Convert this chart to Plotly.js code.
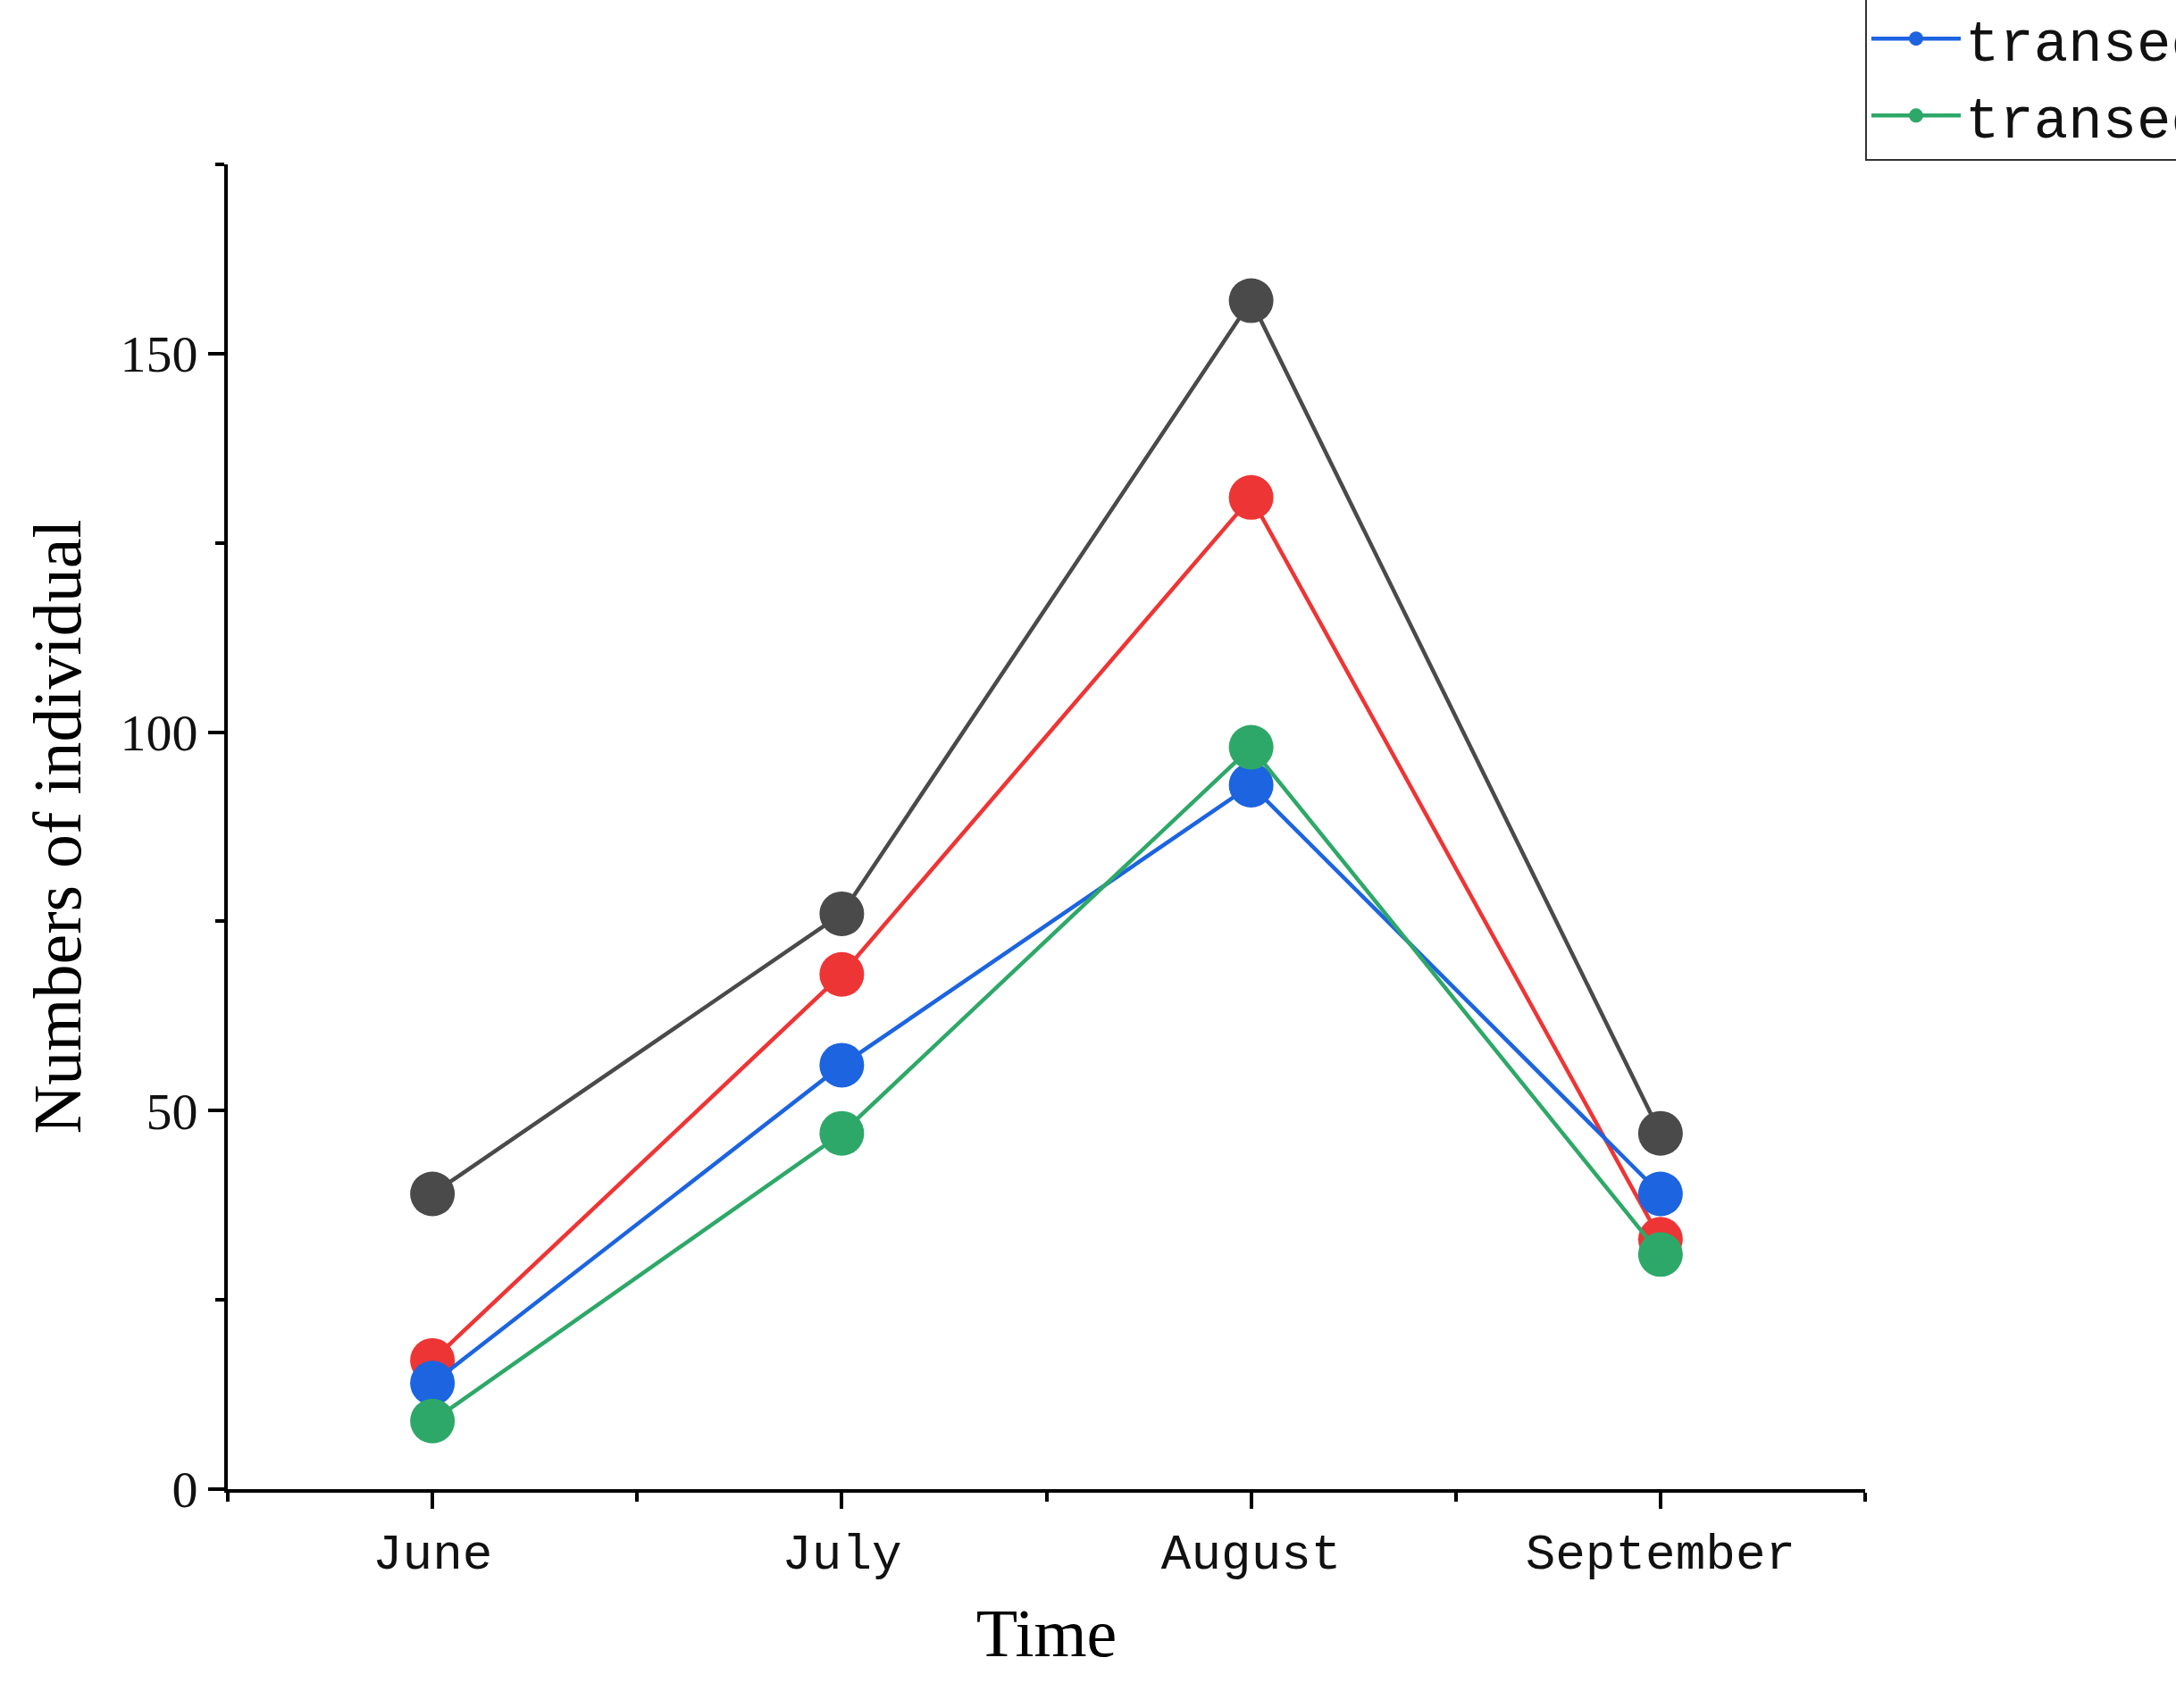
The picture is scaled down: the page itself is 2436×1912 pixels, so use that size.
<!DOCTYPE html>
<html>
<head>
<meta charset="utf-8">
<script src="https://cdn.plot.ly/plotly-3.0.1.min.js"></script>
<style>html,body{margin:0;padding:0;background:#fff}</style>
</head>
<body>
<div id="chart" style="width:2436px;height:1912px"></div>
<script>
var months = ['June', 'July', 'August', 'September'];
var names = ['transect  Ⅰ', 'transect  Ⅱ', 'transect  Ⅲ', 'transect  Ⅳ'];
var transect1 = [39, 76, 157, 47];
var transect2 = [17, 68, 131, 33];
var transect3 = [14, 56, 93, 39];
var transect4 = [9, 47, 98, 31];
var colors = ['#4a4a4a', '#ee3535', '#1c64e0', '#2ea868'];

var series = [transect1, transect2, transect3, transect4];
var xIdx = months.map(function (m, i) { return i; });
var data = series.map(function (vals, i) {
    return {
        x: xIdx,
        y: vals,
        name: names[i],
        mode: 'lines+markers',
        line: {color: colors[i], width: 4.5},
        marker: {color: colors[i], size: 50, line: {width: 0}}
    };
});

var layout = {
    width: 2436, height: 1912,
    margin: {l: 255, r: 348, t: 184, b: 245, autoexpand: false},
    paper_bgcolor: '#fff', plot_bgcolor: '#fff',
    showlegend: true,
    legend: {
        x: 1.0, xanchor: 'left', y: 1.245, yanchor: 'top',
        bordercolor: '#333', borderwidth: 2,
        font: {family: 'Liberation Mono, DejaVu Serif', size: 64, color: '#111'},
        itemsizing: 'trace', itemwidth: 100, tracegroupgap: 0
    },
    xaxis: {
        range: [-0.5, 3.5], tickvals: xIdx, ticktext: months,
        showline: true, linecolor: '#000', linewidth: 4,
        ticks: 'outside', ticklen: 18, tickwidth: 4, tickcolor: '#000',
        minor: {ticks: 'outside', ticklen: 10, tickwidth: 4, tickcolor: '#000', tickvals: [-0.5, 0.5, 1.5, 2.5, 3.5]},
        showgrid: false, zeroline: false,
        tickfont: {family: 'Liberation Mono', size: 56, color: '#111'},
        title: {text: 'Time', font: {family: 'Liberation Serif', size: 76, color: '#000'}, standoff: 30}
    },
    yaxis: {
        range: [0, 175], tickvals: [0, 50, 100, 150],
        showline: true, linecolor: '#000', linewidth: 4,
        ticks: 'outside', ticklen: 18, tickwidth: 4, tickcolor: '#000',
        minor: {ticks: 'outside', ticklen: 10, tickwidth: 4, tickcolor: '#000', tickvals: [25, 75, 125, 175]},
        showgrid: false, zeroline: false,
        tickfont: {family: 'Liberation Serif', size: 58, color: '#111'},
        title: {text: 'Numbers of individual', font: {family: 'Liberation Serif', size: 76, color: '#000'}, standoff: 20}
    }
};

Plotly.newPlot('chart', data, layout, {displayModeBar: false});
</script>
</body>
</html>
